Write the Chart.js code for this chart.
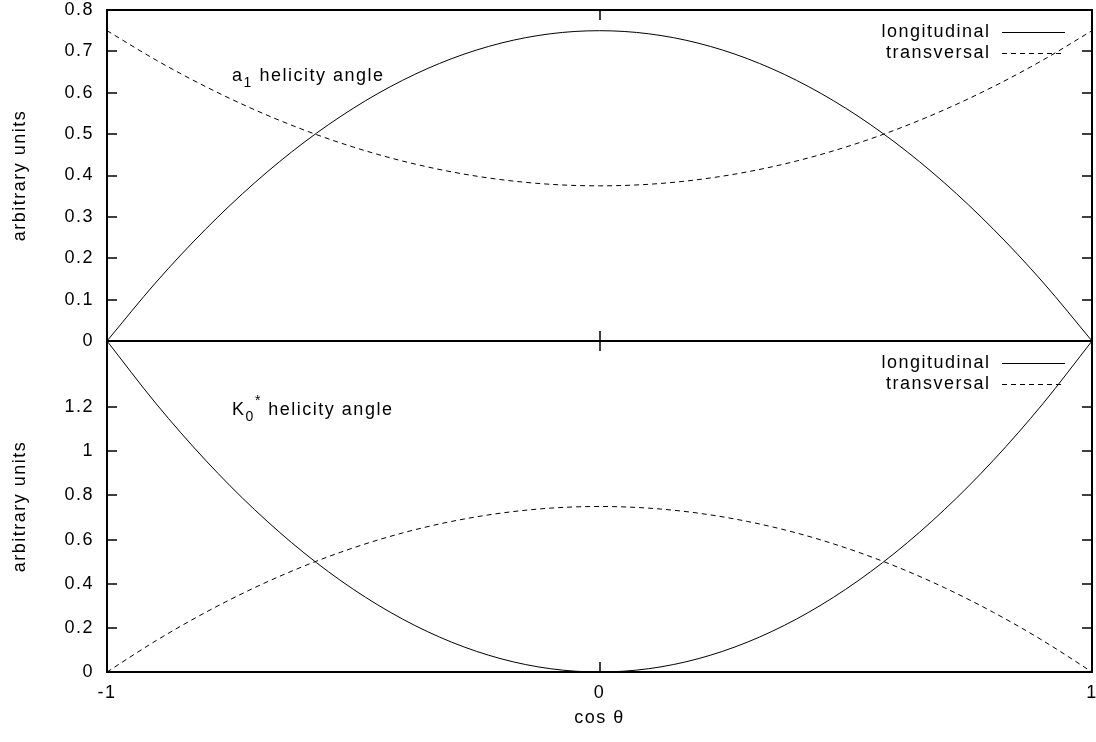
<!DOCTYPE html>
<html>
<head>
<meta charset="utf-8">
<script src="https://cdn.jsdelivr.net/npm/chart.js@4.4.1/dist/chart.umd.min.js"></script>
<style>
  html, body { margin: 0; padding: 0; background: #fff; }
  #wrap { position: relative; width: 1096px; height: 742px; }
  #wrap canvas { position: absolute; left: 0; top: 0; }
</style>
</head>
<body>
<div id="wrap">
  <canvas id="panelTop" width="1096" height="742"></canvas>
  <canvas id="panelBottom" width="1096" height="742"></canvas>
</div>
<script>
// cos(theta) sample points
const cosTheta = [-1, -0.9, -0.8, -0.7, -0.6, -0.5, -0.4, -0.3, -0.2, -0.1, 0,
                  0.1, 0.2, 0.3, 0.4, 0.5, 0.6, 0.7, 0.8, 0.9, 1];

// a1 helicity angle distributions
const a1Longitudinal = [0, 0.1425, 0.27, 0.3825, 0.48, 0.5625, 0.63, 0.6825, 0.72, 0.7425, 0.75,
                        0.7425, 0.72, 0.6825, 0.63, 0.5625, 0.48, 0.3825, 0.27, 0.1425, 0];
const a1Transversal = [0.75, 0.67875, 0.615, 0.55875, 0.51, 0.46875, 0.435, 0.40875, 0.39, 0.37875, 0.375,
                       0.37875, 0.39, 0.40875, 0.435, 0.46875, 0.51, 0.55875, 0.615, 0.67875, 0.75];

// K0* helicity angle distributions
const k0Longitudinal = [1.5, 1.215, 0.96, 0.735, 0.54, 0.375, 0.24, 0.135, 0.06, 0.015, 0,
                        0.015, 0.06, 0.135, 0.24, 0.375, 0.54, 0.735, 0.96, 1.215, 1.5];
const k0Transversal = [0, 0.1425, 0.27, 0.3825, 0.48, 0.5625, 0.63, 0.6825, 0.72, 0.7425, 0.75,
                       0.7425, 0.72, 0.6825, 0.63, 0.5625, 0.48, 0.3825, 0.27, 0.1425, 0];

const seriesNames = ['longitudinal', 'transversal'];

// axis ticks
const xTicks = [-1, 0, 1];
const xTickLabels = ['-1', '0', '1'];
const yTicksTop = [0, 0.1, 0.2, 0.3, 0.4, 0.5, 0.6, 0.7, 0.8];
const yTickLabelsTop = ['0', '0.1', '0.2', '0.3', '0.4', '0.5', '0.6', '0.7', '0.8'];
const yTicksBottom = [0, 0.2, 0.4, 0.6, 0.8, 1, 1.2];
const yTickLabelsBottom = ['0', '0.2', '0.4', '0.6', '0.8', '1', '1.2'];

const FONT = 'Liberation Sans, Arial, Helvetica, sans-serif';
const FONT_SIZE = 18;
const SPACING = '1.5px';

function toPoints(ys) {
  return cosTheta.map((x, i) => ({ x: x, y: ys[i] }));
}

function makeDatasets(longi, trans) {
  return [
    { label: seriesNames[0], data: toPoints(longi), borderColor: '#000', borderWidth: 1,
      pointRadius: 0, cubicInterpolationMode: 'monotone', fill: false },
    { label: seriesNames[1], data: toPoints(trans), borderColor: '#000', borderWidth: 1,
      borderDash: [5, 4], pointRadius: 0, cubicInterpolationMode: 'monotone', fill: false }
  ];
}

// frame, inward ticks, key and panel caption
const framePlugin = {
  id: 'frame',
  beforeDraw(chart) {
    chart.ctx.letterSpacing = SPACING;
  },
  afterDraw(chart, args, opts) {
    const ctx = chart.ctx;
    const area = chart.chartArea;
    const xs = chart.scales.x, ys = chart.scales.y;
    ctx.save();
    ctx.letterSpacing = SPACING;
    ctx.strokeStyle = '#000';
    ctx.lineWidth = 1.5;
    ctx.setLineDash([]);
    const tl = 10;
    ctx.beginPath();
    opts.yTicks.forEach(v => {
      const p = Math.round(ys.getPixelForValue(v));
      ctx.moveTo(area.left, p); ctx.lineTo(area.left + tl, p);
      ctx.moveTo(area.right, p); ctx.lineTo(area.right - tl, p);
    });
    xTicks.forEach(v => {
      const p = Math.round(xs.getPixelForValue(v));
      ctx.moveTo(p, area.top); ctx.lineTo(p, area.top + tl);
      ctx.moveTo(p, area.bottom); ctx.lineTo(p, area.bottom - tl);
    });
    ctx.stroke();

    ctx.lineWidth = 2;
    ctx.strokeRect(area.left, area.top, area.right - area.left, area.bottom - area.top);

    // key
    ctx.font = FONT_SIZE + 'px ' + FONT;
    ctx.fillStyle = '#000';
    ctx.textAlign = 'right';
    ctx.textBaseline = 'middle';
    chart.data.datasets.forEach((ds, i) => {
      const y = Math.round(area.top + 21.5 + i * 21) + 0.5;
      ctx.fillText(ds.label, area.right - 103 + 1.5, y);
      ctx.beginPath();
      ctx.lineWidth = 1;
      ctx.setLineDash(ds.borderDash || []);
      ctx.moveTo(area.right - 90, y);
      ctx.lineTo(area.right - 27, y);
      ctx.stroke();
    });
    ctx.setLineDash([]);

    // caption with sub/superscript
    const c = opts.caption;
    let x = xs.getPixelForValue(c.x);
    const y = ys.getPixelForValue(c.y);
    ctx.textAlign = 'left';
    ctx.textBaseline = 'alphabetic';
    ctx.font = FONT_SIZE + 'px ' + FONT;
    ctx.fillText(c.main, x, y);
    x += ctx.measureText(c.main).width;
    ctx.font = '14px ' + FONT;
    let adv = 0;
    if (c.sub) {
      ctx.fillText(c.sub, x, y + 6);
      adv = ctx.measureText(c.sub).width;
    }
    if (c.sup) {
      ctx.fillText(c.sup, x + adv, y - 10);
      adv += ctx.measureText(c.sup).width;
    }
    x += adv;
    ctx.font = FONT_SIZE + 'px ' + FONT;
    ctx.fillText(c.rest, x, y);
    ctx.restore();
  }
};

function baseOptions(cfg) {
  return {
    responsive: false,
    devicePixelRatio: 1,
    animation: false,
    events: [],
    layout: { padding: cfg.padding },
    plugins: {
      legend: { display: false },
      tooltip: { enabled: false },
      frame: { yTicks: cfg.yTicks, caption: cfg.caption }
    },
    scales: {
      x: {
        type: 'linear', min: -1, max: 1,
        display: cfg.showX,
        grid: { display: false, drawTicks: false, tickLength: 0 },
        border: { display: false },
        afterBuildTicks: s => { s.ticks = xTicks.map(v => ({ value: v })); },
        afterFit: s => {
          s.height = cfg.showX ? 70 : 0;
          s.paddingLeft = 0; s.paddingRight = 0;
        },
        ticks: {
          autoSkip: false, maxRotation: 0, padding: 10, color: '#000',
          font: { family: FONT, size: FONT_SIZE, lineHeight: 1.2 },
          callback: (v, i) => xTickLabels[i]
        },
        title: {
          display: true, text: 'cos θ', color: '#000',
          font: { family: FONT, size: FONT_SIZE, lineHeight: 1.2 },
          padding: { top: 0, bottom: 13 }
        }
      },
      y: {
        type: 'linear', min: 0, max: cfg.yMax,
        grid: { display: false, drawTicks: false, tickLength: 0 },
        border: { display: false },
        afterBuildTicks: s => { s.ticks = cfg.yTicks.map(v => ({ value: v })); },
        afterFit: s => {
          s.width = 107;
          s.paddingTop = 0; s.paddingBottom = 0;
        },
        ticks: {
          autoSkip: false, padding: 13, color: '#000',
          font: { family: FONT, size: FONT_SIZE, lineHeight: 1.2 },
          callback: (v, i) => cfg.yLabels[i]
        },
        title: {
          display: true, text: 'arbitrary units', color: '#000',
          font: { family: FONT, size: FONT_SIZE, lineHeight: 1.2 },
          padding: { top: 9, bottom: 0 }
        }
      }
    }
  };
}

new Chart(document.getElementById('panelTop'), {
  type: 'line',
  data: { datasets: makeDatasets(a1Longitudinal, a1Transversal) },
  options: baseOptions({
    padding: { left: 0, right: 4, top: 10, bottom: 401 },
    showX: false,
    yMax: 0.8,
    yTicks: yTicksTop,
    yLabels: yTickLabelsTop,
    caption: { x: -0.746, y: 0.628, main: 'a', sub: '1', sup: '', rest: ' helicity angle' }
  }),
  plugins: [framePlugin]
});

new Chart(document.getElementById('panelBottom'), {
  type: 'line',
  data: { datasets: makeDatasets(k0Longitudinal, k0Transversal) },
  options: baseOptions({
    padding: { left: 0, right: 4, top: 341, bottom: 0 },
    showX: true,
    yMax: 1.5,
    yTicks: yTicksBottom,
    yLabels: yTickLabelsBottom,
    caption: { x: -0.746, y: 1.165, main: 'K', sub: '0', sup: '*', rest: ' helicity angle' }
  }),
  plugins: [framePlugin]
});
</script>
</body>
</html>
